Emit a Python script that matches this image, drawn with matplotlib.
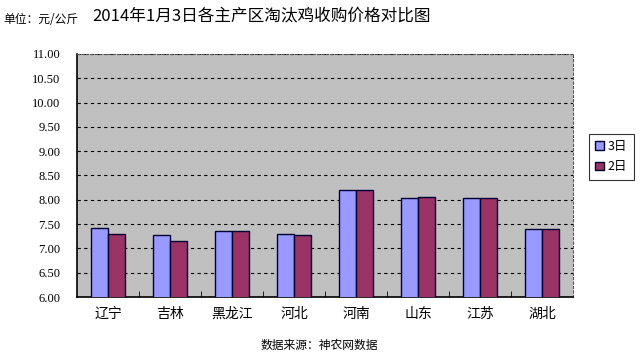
import numpy as np
import matplotlib
matplotlib.use("Agg")
import matplotlib.pyplot as plt

plt.rcParams['font.family'] = ['Noto Sans CJK SC', 'DejaVu Sans']

# 2014-01-03 culled chicken purchase price by region (yuan/kg)
regions = ["辽宁", "吉林", "黑龙江", "河北", "河南", "山东", "江苏", "湖北"]
price_3 = [7.41, 7.27, 7.35, 7.29, 8.21, 8.04, 8.04, 7.40]
price_2 = [7.29, 7.16, 7.35, 7.27, 8.21, 8.06, 8.04, 7.40]
yticks = np.arange(6.0, 11.01, 0.5)

fig = plt.figure(figsize=(6.42, 3.54), dpi=100)
ax = fig.add_axes([0.12, 0.161, 0.7725, 0.6865])
ax.set_facecolor("#C0C0C0")

x = np.arange(len(regions))
w = 0.275
ax.bar(x - w / 2, price_3, w, bottom=0, color="#9999FF", edgecolor="#000033",
       linewidth=1.0, label="3日", zorder=3)
ax.bar(x + w / 2, price_2, w, bottom=0, color="#993366", edgecolor="#000033",
       linewidth=1.0, label="2日", zorder=3)

ax.set_ylim(6, 11)
ax.set_xlim(-0.5, len(regions) - 0.5)
ax.set_yticks(yticks)
ax.set_yticklabels(["%.2f" % v for v in yticks], fontsize=9,
                   family="Liberation Serif")
ax.tick_params(axis="y", length=0, pad=12)
ax.yaxis.grid(True, linestyle=(0, (3, 3)), color="black", linewidth=0.8, zorder=1)

ax.set_xticks(x)
ax.set_xticklabels(regions, fontsize=10)
ax.tick_params(axis="x", length=0, pad=7)
ax.set_xticks(np.arange(0.5, len(regions) - 1, 1), minor=True)
ax.tick_params(axis="x", which="minor", direction="in", length=4, color="black")

for side in ["left", "bottom"]:
    ax.spines[side].set_color("black")
    ax.spines[side].set_linewidth(1.2)
for side in ["top", "right"]:
    ax.spines[side].set_color("#555555")
    ax.spines[side].set_linestyle((0, (2, 2)))
    ax.spines[side].set_linewidth(0.8)

leg = fig.legend(loc="upper left", bbox_to_anchor=(0.908, 0.64), fontsize=9,
                 frameon=True, fancybox=False, edgecolor="black",
                 handlelength=0.7, handleheight=0.7, handletextpad=0.3,
                 borderpad=0.5, labelspacing=0.6)
leg.get_frame().set_linewidth(0.8)

fig.text(0.407, 0.955, "2014年1月3日各主产区淘汰鸡收购价格对比图", ha="center",
         va="center", fontsize=12)
fig.text(0.005, 0.945, "单位：元/公斤", ha="left", va="center", fontsize=8.5)
fig.text(0.497, 0.025, "数据来源：神农网数据", ha="center", va="center", fontsize=8.5)

fig.savefig("out.png", dpi=100)
